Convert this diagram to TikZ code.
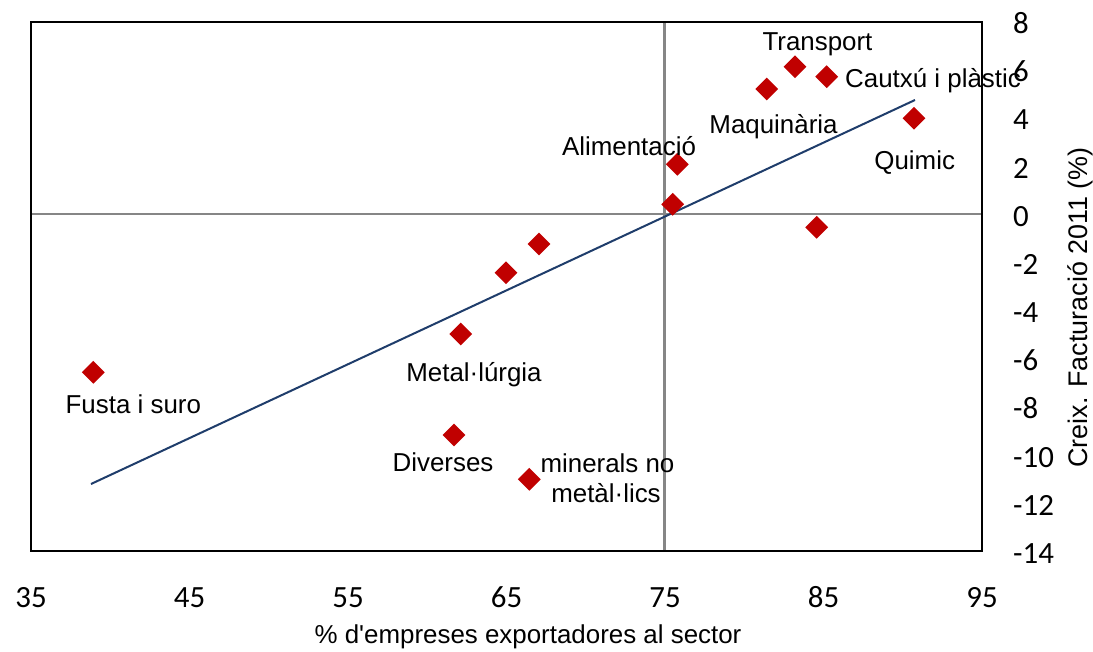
\documentclass[tikz,border=0pt]{standalone}
\usepackage{fontspec}
\setmainfont{Liberation Sans}
\newfontfamily\calfont{Carlito}
\usetikzlibrary{shapes.geometric}
\definecolor{ptred}{HTML}{C00000}
\definecolor{trendblue}{HTML}{1F3D6B}
\definecolor{gridgray}{HTML}{868686}
\begin{document}
\begin{tikzpicture}[x=1bp,y=-1bp,
  pt/.style={diamond, fill=ptred, draw=none, minimum width=23bp, minimum height=23bp, inner sep=0pt, aspect=1},
  lab/.style={font=\fontsize{26}{30.5}\selectfont, inner sep=0pt, anchor=base},
  ytitlelab/.style={font=\fontsize{27}{31}\selectfont, inner sep=0pt, anchor=base},
  ticklab/.style={font=\calfont\fontsize{31}{36}\selectfont, inner sep=0pt, anchor=base},
  ytick/.style={ticklab, anchor=base west},
  axisline/.style={draw=gridgray, line width=2.4bp},
  frameline/.style={draw=black, line width=2.2bp},
  trendline/.style={draw=trendblue, line width=2bp}]
\useasboundingbox (0,0) rectangle (1093,652);
% frame corners
\coordinate (fTL) at (31,22);
\coordinate (fBR) at (982,551);
% zero axes
\coordinate (vTop) at (664.5,22);
\coordinate (vBot) at (664.5,551);
\coordinate (hL) at (31,214);
\coordinate (hR) at (982,214);
\draw[axisline] (vTop) -- (vBot);
\draw[axisline] (hL) -- (hR);
% trend line
\coordinate (tA) at (91,484);
\coordinate (tB) at (915,100);
\draw[trendline] (tA) -- (tB);
% points
\node[pt] (fusta) at (93.3,372.3) {};
\node[pt] (metal) at (460.7,334) {};
\node[pt] (divers) at (454,435) {};
\node[pt] (miner) at (529.3,479.3) {};
\node[pt] (pa) at (506,272.7) {};
\node[pt] (pb) at (539,244) {};
\node[pt] (alim) at (677.3,164.3) {};
\node[pt] (pc) at (672.7,204.3) {};
\node[pt] (pd) at (816.7,227.3) {};
\node[pt] (maq) at (766.7,89) {};
\node[pt] (transp) at (795,66.7) {};
\node[pt] (caut) at (826.7,76.7) {};
\node[pt] (quim) at (914,118.3) {};
% labels
\node[lab] (lTransp) at (817.5,51) {Transport};
\node[lab, anchor=base west] (lCaut) at (845,88) {Cautxú i plàstic};
\node[lab] (lMaq) at (773.5,133.5) {Maquinària};
\node[lab] (lAlim) at (629,156) {Alimentació};
\node[lab] (lQuim) at (914.7,170) {Quimic};
\node[lab] (lMetal) at (474,381) {Metal·lúrgia};
\node[lab] (lDivers) at (443,471) {Diverses};
\node[lab] (lMin1) at (607.5,472) {minerals no};
\node[lab] (lMin2) at (606,502.7) {metàl·lics};
\node[lab] (lFusta) at (133.3,413.3) {Fusta i suro};
% frame
\draw[frameline] (fTL) rectangle (fBR);
% x ticks
\node[ticklab] (x35) at (31,607) {35};
\node[ticklab] (x45) at (189.5,607) {45};
\node[ticklab] (x55) at (348,607) {55};
\node[ticklab] (x65) at (506.5,607) {65};
\node[ticklab] (x75) at (665,607) {75};
\node[ticklab] (x85) at (823.5,607) {85};
\node[ticklab] (x95) at (982,607) {95};
% y ticks
\node[ytick] (y8) at (1013,34) {8};
\node[ytick] (y6) at (1013,82) {6};
\node[ytick] (y4) at (1013,130) {4};
\node[ytick] (y2) at (1013,178.5) {2};
\node[ytick] (y0) at (1013,226.5) {0};
\node[ytick] (ym2) at (1013,274.5) {-2};
\node[ytick] (ym4) at (1013,322.5) {-4};
\node[ytick] (ym6) at (1013,370.5) {-6};
\node[ytick] (ym8) at (1013,418.5) {-8};
\node[ytick] (ym10) at (1013,467) {-10};
\node[ytick] (ym12) at (1013,515) {-12};
\node[ytick] (ym14) at (1013,563) {-14};
% axis titles
\node[lab] (xtitle) at (528,643) {\% d\textquotesingle empreses exportadores al sector};
\node[ytitlelab, rotate=90] (ytitle) at (1087,307.5) {Creix. Facturació 2011 (\%)};
\end{tikzpicture}
\end{document}
